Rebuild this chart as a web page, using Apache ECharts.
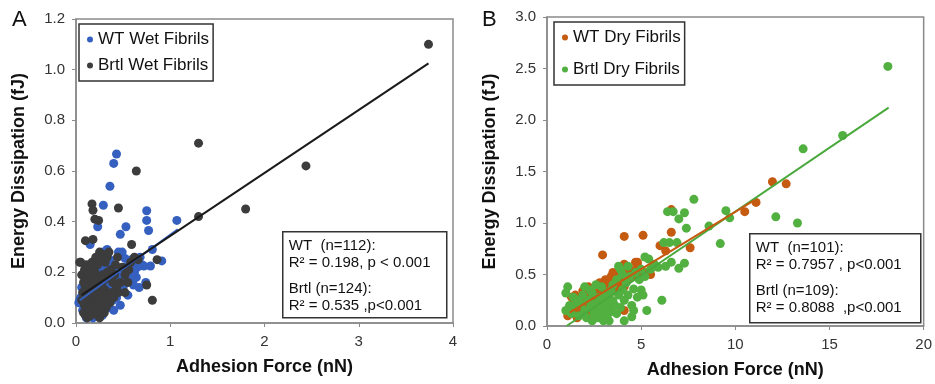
<!DOCTYPE html>
<html>
<head>
<meta charset="utf-8">
<script src="https://cdn.jsdelivr.net/npm/echarts@6/dist/echarts.min.js"></script>
<style>
  html, body { margin: 0; padding: 0; background: #fff; }
  #chart { width: 935px; height: 384px; }
</style>
</head>
<body>
<div id="chart"></div>
<script>
// Panel A - wet fibrils [adhesion force nN, energy dissipation fJ]
const wtWet = [
  [0.43, 0.667], [0.40, 0.63], [0.36, 0.54], [0.29, 0.465], [0.23, 0.38], [0.75, 0.443], [0.75, 0.405],
  [0.77, 0.365], [1.07, 0.405], [0.53, 0.38], [0.47, 0.35], [0.49, 0.28], [0.52, 0.255], [0.63, 0.23],
  [0.72, 0.225], [0.79, 0.225], [0.81, 0.29], [0.91, 0.245], [0.64, 0.18], [0.61, 0.15], [0.74, 0.16],
  [0.15, 0.31], [0.04, 0.09], [0.13, 0.03], [0.20, 0.04],
  [0.05, 0.10], [0.08, 0.12], [0.10, 0.06], [0.12, 0.11], [0.14, 0.13], [0.16, 0.08], [0.18, 0.16],
  [0.20, 0.12], [0.22, 0.18], [0.24, 0.14], [0.26, 0.20], [0.28, 0.10], [0.30, 0.22], [0.32, 0.16],
  [0.34, 0.19], [0.36, 0.13], [0.38, 0.23], [0.40, 0.17], [0.42, 0.20], [0.44, 0.15], [0.46, 0.21],
  [0.48, 0.18], [0.50, 0.14], [0.53, 0.22], [0.55, 0.11], [0.57, 0.19], [0.59, 0.25], [0.62, 0.20],
  [0.65, 0.22], [0.68, 0.26], [0.70, 0.23], [0.07, 0.05], [0.09, 0.15], [0.11, 0.02], [0.15, 0.06],
  [0.19, 0.05], [0.23, 0.09], [0.27, 0.07], [0.31, 0.11], [0.35, 0.06], [0.39, 0.09], [0.43, 0.10],
  [0.47, 0.07], [0.51, 0.17], [0.25, 0.25], [0.21, 0.22], [0.17, 0.20], [0.13, 0.18], [0.33, 0.29],
  [0.29, 0.28], [0.36, 0.25], [0.45, 0.28], [0.60, 0.17], [0.67, 0.14], [0.40, 0.05], [0.06, 0.14],
  [0.03, 0.08], [0.28, 0.03], [0.18, 0.02], [0.37, 0.15]
];
const brtlWet = [
  [3.74, 1.10], [1.30, 0.71], [2.44, 0.62], [1.80, 0.45], [1.30, 0.42], [0.64, 0.60], [0.45, 0.454],
  [0.17, 0.47], [0.18, 0.445], [0.20, 0.41], [0.24, 0.405], [0.59, 0.31], [0.81, 0.09], [0.75, 0.15],
  [0.86, 0.25], [0.66, 0.25], [0.10, 0.325], [0.18, 0.33], [0.04, 0.24], [0.25, 0.02],
  [0.08, 0.04], [0.10, 0.03], [0.12, 0.02], [0.14, 0.05], [0.16, 0.03], [0.18, 0.06], [0.20, 0.04],
  [0.22, 0.07], [0.09, 0.07], [0.11, 0.09], [0.13, 0.08], [0.15, 0.10], [0.17, 0.09], [0.19, 0.11],
  [0.21, 0.10], [0.23, 0.12], [0.25, 0.09], [0.27, 0.11], [0.29, 0.08], [0.31, 0.13], [0.07, 0.12],
  [0.10, 0.14], [0.12, 0.13], [0.14, 0.16], [0.16, 0.15], [0.18, 0.14], [0.20, 0.17], [0.22, 0.15],
  [0.24, 0.18], [0.26, 0.16], [0.28, 0.19], [0.30, 0.17], [0.33, 0.20], [0.35, 0.18], [0.37, 0.21],
  [0.39, 0.16], [0.41, 0.19], [0.43, 0.14], [0.45, 0.12], [0.34, 0.10], [0.36, 0.08], [0.38, 0.12],
  [0.40, 0.10], [0.47, 0.16], [0.49, 0.22], [0.52, 0.19], [0.55, 0.16], [0.58, 0.24], [0.06, 0.19],
  [0.09, 0.21], [0.11, 0.23], [0.13, 0.20], [0.15, 0.22], [0.17, 0.24], [0.19, 0.21], [0.21, 0.26],
  [0.23, 0.23], [0.25, 0.28], [0.27, 0.25], [0.29, 0.27], [0.31, 0.24], [0.33, 0.26], [0.35, 0.28],
  [0.05, 0.24], [0.06, 0.09], [0.08, 0.16], [0.12, 0.18], [0.16, 0.19], [0.20, 0.20], [0.24, 0.13],
  [0.28, 0.14], [0.32, 0.06], [0.30, 0.04], [0.26, 0.05], [0.24, 0.03], [0.42, 0.23], [0.44, 0.26],
  [0.52, 0.12], [0.56, 0.21], [0.62, 0.26]
];
const wtWetFit = [[0.04, 0.09], [1.08, 0.37]];
const brtlWetFit = [[0.06, 0.11], [3.74, 1.025]];

// Panel B - dry fibrils
const wtDry = [
  [11.97, 1.40], [12.7, 1.38], [11.1, 1.20], [10.5, 1.11], [7.6, 0.76], [6.6, 0.91], [6.6, 1.13],
  [6.0, 0.78], [6.3, 0.73], [5.1, 0.88], [4.1, 0.87], [2.95, 0.69], [4.1, 0.60], [4.8, 0.62],
  [4.8, 0.59], [5.5, 0.50], [4.1, 0.15],
  [1.1, 0.10], [1.2, 0.18], [1.3, 0.28], [1.4, 0.15], [1.5, 0.30], [1.6, 0.12], [1.7, 0.22],
  [1.8, 0.18], [1.9, 0.34], [2.0, 0.25], [2.0, 0.12], [2.1, 0.20], [2.2, 0.30], [2.2, 0.38],
  [2.3, 0.15], [2.4, 0.26], [2.5, 0.35], [2.5, 0.20], [2.6, 0.30], [2.7, 0.38], [2.7, 0.25],
  [2.8, 0.18], [2.8, 0.42], [2.9, 0.32], [3.0, 0.28], [3.0, 0.38], [3.1, 0.45], [3.2, 0.35],
  [3.3, 0.30], [3.3, 0.42], [3.4, 0.48], [3.5, 0.38], [3.5, 0.52], [3.6, 0.44], [3.7, 0.34],
  [3.7, 0.50], [3.8, 0.40], [3.9, 0.46], [4.0, 0.42], [4.1, 0.38], [4.2, 0.50], [4.3, 0.45],
  [4.4, 0.55], [4.6, 0.48], [4.7, 0.62], [5.3, 0.52], [2.4, 0.10], [1.6, 0.08], [3.5, 0.22],
  [2.9, 0.12], [4.0, 0.58], [2.1, 0.30], [1.4, 0.22], [3.0, 0.15], [5.0, 0.50]
];
const brtlDry = [
  [18.1, 2.52], [15.7, 1.85], [13.6, 1.72], [7.8, 1.23], [12.15, 1.06], [13.3, 1.00], [9.5, 1.12],
  [9.7, 1.05], [8.6, 0.97], [9.2, 0.80], [6.4, 1.11], [6.7, 1.11], [7.3, 1.10], [7.0, 1.04],
  [7.4, 0.95], [6.2, 0.81], [6.5, 0.81], [6.9, 0.81], [7.3, 0.61], [7.0, 0.56], [6.6, 0.62],
  [6.3, 0.58], [6.1, 0.25], [5.3, 0.15], [4.1, 0.05], [4.5, 0.09], [5.2, 0.67], [5.4, 0.65],
  [3.8, 0.58],
  [1.0, 0.15], [1.0, 0.32], [1.1, 0.38], [1.3, 0.12], [1.5, 0.20], [1.6, 0.25], [1.7, 0.10],
  [1.8, 0.22], [1.9, 0.30], [2.0, 0.38], [2.0, 0.15], [2.1, 0.08], [2.2, 0.25], [2.3, 0.18],
  [2.4, 0.05], [2.4, 0.32], [2.5, 0.12], [2.6, 0.22], [2.7, 0.15], [2.7, 0.08], [2.8, 0.28],
  [2.8, 0.20], [2.9, 0.12], [3.0, 0.18], [3.0, 0.25], [3.0, 0.05], [3.1, 0.32], [3.1, 0.15],
  [3.2, 0.22], [3.2, 0.10], [3.3, 0.28], [3.3, 0.18], [3.4, 0.14], [3.4, 0.35], [3.5, 0.24],
  [3.5, 0.40], [3.6, 0.20], [3.7, 0.45], [3.7, 0.12], [3.8, 0.30], [3.9, 0.18], [4.0, 0.50],
  [4.0, 0.35], [4.1, 0.25], [4.2, 0.42], [4.3, 0.30], [4.4, 0.48], [4.5, 0.20], [4.6, 0.36],
  [4.7, 0.52], [4.8, 0.28], [4.9, 0.45], [5.0, 0.35], [5.0, 0.55], [5.1, 0.30], [5.2, 0.48],
  [5.5, 0.55], [5.7, 0.60], [5.9, 0.57], [3.9, 0.55], [4.3, 0.58], [2.3, 0.35], [1.4, 0.28],
  [2.6, 0.40], [3.3, 0.05], [2.9, 0.38], [1.2, 0.20], [4.6, 0.15]
];
const wtDryFit = [[1.2, 0.13], [11.0, 1.22]];
const brtlDryFit = [[1.04, 0.0], [18.14, 2.12]];

const statsA = ['WT  (n=112):', 'R² = 0.198, p < 0.001', 'Brtl (n=124):', 'R² = 0.535 ,p<0.001'];
const statsB = ['WT  (n=101):', 'R² = 0.7957 , p<0.001', 'Brtl (n=109):', 'R² = 0.8088  ,p<0.001'];

const FONT = '"Liberation Sans", Arial, sans-serif';
const frame = '#8a8a8a';
const labelColor = '#333';

function xAxis(idx, max, interval) {
  return {
    gridIndex: idx, type: 'value', min: 0, max: max, interval: interval,
    name: 'Adhesion Force (nN)', nameLocation: 'middle', nameGap: 35,
    nameTextStyle: { fontFamily: FONT, fontSize: 18, fontWeight: 'bold', color: '#111' },
    axisLine: { lineStyle: { color: frame, width: 1.5 } },
    axisTick: { show: true, length: 4, lineStyle: { color: frame } },
    axisLabel: { fontFamily: FONT, fontSize: 15, color: labelColor, margin: 11 },
    splitLine: { show: false }
  };
}
function yAxis(idx, max, interval, gap) {
  return {
    gridIndex: idx, type: 'value', min: 0, max: max, interval: interval,
    name: 'Energy Dissipation (fJ)', nameLocation: 'middle', nameGap: gap,
    nameTextStyle: { fontFamily: FONT, fontSize: 18, fontWeight: 'bold', color: '#111' },
    axisLine: { show: true, lineStyle: { color: frame, width: 1.5 } },
    axisTick: { show: true, length: 4, lineStyle: { color: frame } },
    axisLabel: { fontFamily: FONT, fontSize: 15, color: labelColor, margin: 11,
      formatter: v => v.toFixed(1) },
    splitLine: { show: false }
  };
}
function dots(name, data, color, idx) {
  return { name: name, type: 'scatter', xAxisIndex: idx, yAxisIndex: idx, data: data,
    symbolSize: 9, itemStyle: { color: color, opacity: 1 }, silent: true };
}
function fit(data, color, idx) {
  return { type: 'line', xAxisIndex: idx, yAxisIndex: idx, data: data, symbol: 'none',
    lineStyle: { color: color, width: 2 }, silent: true };
}
function statsBox(x, y, w, h, lines) {
  return {
    type: 'group', left: x, top: y,
    children: [
      { type: 'rect', shape: { x: 0, y: 0, width: w, height: h },
        style: { fill: '#fff', stroke: '#333', lineWidth: 1.5 } },
      { type: 'text', x: 6, y: 6, style: { text: lines[0] + '\n' + lines[1], font: '15px ' + FONT,
        fill: '#111', lineHeight: 17 } },
      { type: 'text', x: 6, y: 49, style: { text: lines[2] + '\n' + lines[3], font: '15px ' + FONT,
        fill: '#111', lineHeight: 17 } }
    ]
  };
}
function legend(idx, names, left, top, gap) {
  return {
    data: names, orient: 'vertical', left: left, top: top, icon: 'circle',
    itemWidth: 6, itemHeight: 6, itemGap: gap, padding: [7, 4, 7, 8],
    borderColor: '#333', borderWidth: 1.5, backgroundColor: '#fff',
    textStyle: { fontFamily: FONT, fontSize: 17, color: '#111' }, selectedMode: false
  };
}

const chart = echarts.init(document.getElementById('chart'));
chart.setOption({
  animation: false,
  grid: [
    { left: 76, top: 19, width: 377, height: 304, show: true, borderColor: frame, borderWidth: 1.5 },
    { left: 547, top: 17, width: 377, height: 309, show: true, borderColor: frame, borderWidth: 1.5 }
  ],
  xAxis: [xAxis(0, 4, 1), xAxis(1, 20, 5)],
  yAxis: [yAxis(0, 1.2, 0.2, 48), yAxis(1, 3.0, 0.5, 48)],
  legend: [
    legend(0, ['WT Wet Fibrils', 'Brtl Wet Fibrils'], 79, 24, 9),
    legend(1, ['WT Dry Fibrils', 'Brtl Dry Fibrils'], 554, 22, 15)
  ],
  series: [
    dots('WT Wet Fibrils', wtWet, '#3560c0', 0),
    dots('Brtl Wet Fibrils', brtlWet, '#3c3c3c', 0),
    fit(wtWetFit, '#3560c0', 0),
    fit(brtlWetFit, '#1a1a1a', 0),
    dots('WT Dry Fibrils', wtDry, '#c55a11', 1),
    dots('Brtl Dry Fibrils', brtlDry, '#52b040', 1),
    fit(brtlDryFit, '#4aa93c', 1),
    fit(wtDryFit, '#c55a11', 1)
  ],
  graphic: [
    { type: 'text', left: 12, top: 9, style: { text: 'A', font: '22px ' + FONT, fill: '#111' } },
    { type: 'text', left: 482, top: 9, style: { text: 'B', font: '22px ' + FONT, fill: '#111' } },
    statsBox(282, 231, 164, 86, statsA),
    statsBox(749, 233, 171, 89, statsB)
  ]
});
</script>
</body>
</html>
